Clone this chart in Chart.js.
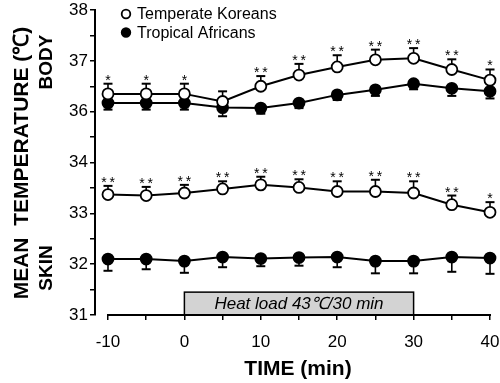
<!DOCTYPE html>
<html><head><meta charset="utf-8">
<script src="https://cdn.jsdelivr.net/npm/chart.js@4/dist/chart.umd.min.js"></script>
<style>html,body{margin:0;padding:0;background:#fff}#wrap{position:relative;width:500px;height:383px}</style>
</head><body><div id="wrap"><canvas id="c" width="500" height="383"></canvas></div>
<script>
// ---- data ----
const times = [-10, -5, 0, 5, 10, 15, 20, 25, 30, 35, 40];
const koreansBody     = [36.35, 36.35, 36.35, 36.20, 36.50, 36.72, 36.88, 37.02, 37.05, 36.83, 36.62];
const koreansBodyErr  = [0.20, 0.20, 0.20, 0.20, 0.20, 0.22, 0.23, 0.20, 0.20, 0.20, 0.21];
const africansBody    = [36.17, 36.17, 36.17, 36.08, 36.07, 36.17, 36.33, 36.43, 36.55, 36.46, 36.40];
const africansBodyErr = [0.13, 0.13, 0.13, 0.17, 0.11, 0.10, 0.10, 0.12, 0.11, 0.15, 0.14];
const koreansSkin     = [33.37, 33.35, 33.40, 33.48, 33.56, 33.51, 33.43, 33.43, 33.40, 33.17, 33.02];
const koreansSkinErr  = [0.17, 0.17, 0.16, 0.15, 0.16, 0.16, 0.20, 0.23, 0.23, 0.18, 0.20];
const africansSkin    = [32.10, 32.10, 32.06, 32.14, 32.11, 32.13, 32.14, 32.06, 32.06, 32.14, 32.12];
const africansSkinErr = [0.23, 0.20, 0.23, 0.20, 0.15, 0.16, 0.20, 0.24, 0.24, 0.29, 0.31];
const bodySig = ['*', '*', '*', '', '**', '**', '**', '**', '**', '**', '*'];
const skinSig = ['**', '**', '**', '**', '**', '**', '**', '**', '**', '**', '*'];
const groupLabels = ['Temperate Koreans', 'Tropical Africans'];
const yTickLabels = [31, 32, 33, 34, 36, 37, 38];   // axis is broken: 35 is skipped
const xTickLabels = [-10, 0, 10, 20, 30, 40];
const xMinorTicks = [-5, 5, 15, 25, 35];
const heatLoad = { start: 0, end: 30, top: 31.45, label: 'Heat load 43\u2103/30 min' };
const yTitle = 'MEAN  TEMPERATURE (\u2103)';
const xTitle = 'TIME (min)';
const sectionLabels = ['BODY', 'SKIN'];

// broken axis: values above the break are shifted down by one unit
const toAxis = v => v > 35 ? v - 1 : v;
const fromAxis = v => v >= 35 ? v + 1 : v;

const FONT = "'Liberation Sans', Arial, Helvetica, sans-serif";

function makeSet(label, vals, errs, dir, sig, fill) {
  return {
    label, err: errs, errDir: dir, sig,
    data: times.map((t, i) => ({ x: t, y: toAxis(vals[i]) })),
    borderColor: '#000', borderWidth: 2, tension: 0, clip: false,
    pointRadius: 5.5, pointBorderWidth: 1.8,
    pointBackgroundColor: fill, pointBorderColor: '#000', fill: false
  };
}

const datasets = [
  makeSet(groupLabels[0], koreansBody, koreansBodyErr, 1, bodySig, '#fff'),
  makeSet(groupLabels[1], africansBody, africansBodyErr, -1, null, '#000'),
  makeSet(groupLabels[0], koreansSkin, koreansSkinErr, 1, skinSig, '#fff'),
  makeSet(groupLabels[1], africansSkin, africansSkinErr, -1, null, '#000')
];

const decor = {
  id: 'decor',
  beforeDatasetsDraw(chart) {
    const { ctx, scales: { x, y } } = chart;
    ctx.save();
    // heat load box
    const x0 = x.getPixelForValue(heatLoad.start), x1 = x.getPixelForValue(heatLoad.end);
    const yb = y.getPixelForValue(31), yt = y.getPixelForValue(heatLoad.top);
    ctx.fillStyle = '#d3d3d3';
    ctx.fillRect(x0, yt, x1 - x0, yb - yt);
    ctx.strokeStyle = '#000'; ctx.lineWidth = 1.5;
    ctx.strokeRect(x0, yt, x1 - x0, yb - yt);
    ctx.fillStyle = '#000';
    ctx.font = 'italic 17px ' + FONT;
    ctx.textAlign = 'center'; ctx.textBaseline = 'middle';
    ctx.fillText(heatLoad.label, (x0 + x1) / 2, (yt + yb) / 2 + 1);
    // error bars
    chart.data.datasets.forEach(ds => {
      ds.data.forEach((p, i) => {
        const px = x.getPixelForValue(p.x);
        const py = y.getPixelForValue(p.y);
        const pe = y.getPixelForValue(p.y + ds.errDir * ds.err[i]);
        ctx.strokeStyle = '#000';
        ctx.lineWidth = 1.6;
        ctx.beginPath(); ctx.moveTo(px, py); ctx.lineTo(px, pe); ctx.stroke();
        ctx.lineWidth = 2;
        ctx.beginPath(); ctx.moveTo(px - 4.5, pe); ctx.lineTo(px + 4.5, pe); ctx.stroke();
        if (ds.sig && ds.sig[i]) {
          ctx.font = '14px ' + FONT;
          ctx.textAlign = 'center'; ctx.textBaseline = 'alphabetic';
          ctx.fillText(ds.sig[i].split('').join('\u2009'), px, pe + 1);
        }
      });
    });
    ctx.restore();
  },
  afterDraw(chart) {
    const { ctx, scales: { x, y }, chartArea } = chart;
    ctx.save();
    // x axis line (detached from y axis)
    ctx.strokeStyle = '#000'; ctx.lineWidth = 2;
    ctx.beginPath();
    ctx.moveTo(x.getPixelForValue(xTickLabels[0]) - 1, chartArea.bottom);
    ctx.lineTo(x.getPixelForValue(xTickLabels[xTickLabels.length - 1]) + 1, chartArea.bottom);
    ctx.stroke();
    // titles
    ctx.fillStyle = '#000';
    ctx.textAlign = 'center'; ctx.textBaseline = 'middle';
    ctx.font = 'bold 21px ' + FONT;
    ctx.fillText(xTitle, 298, 369);
    ctx.save();
    ctx.translate(22, 163); ctx.rotate(-Math.PI / 2);
    ctx.font = 'bold 21px ' + FONT;
    ctx.fillText(yTitle, 0, 0);
    ctx.restore();
    ctx.font = 'bold 19px ' + FONT;
    [[sectionLabels[0], 62], [sectionLabels[1], 268]].forEach(([t, cy]) => {
      ctx.save(); ctx.translate(47, cy); ctx.rotate(-Math.PI / 2);
      ctx.fillText(t, 0, 0); ctx.restore();
    });
    // legend
    ctx.font = '16px ' + FONT;
    ctx.textAlign = 'left';
    const fills = ['#fff', '#000'];
    groupLabels.forEach((lab, k) => {
      const ly = 14 + k * 18.5;
      ctx.beginPath(); ctx.arc(126, ly, 4.3, 0, Math.PI * 2);
      ctx.fillStyle = fills[k]; ctx.fill();
      ctx.lineWidth = 1.8; ctx.strokeStyle = '#000'; ctx.stroke();
      ctx.fillStyle = '#000';
      ctx.fillText(lab, 137, ly + 1);
    });
    ctx.restore();
  }
};

new Chart(document.getElementById('c'), {
  type: 'line',
  data: { datasets },
  plugins: [decor],
  options: {
    responsive: false, animation: false, devicePixelRatio: 1,
    layout: { padding: { top: 10, right: 10, left: 0, bottom: 0 } },
    plugins: { legend: { display: false }, tooltip: { enabled: false } },
    scales: {
      x: {
        type: 'linear', min: -11.7, max: 40,
        afterBuildTicks: s => { s.ticks = xTickLabels.concat(xMinorTicks).sort((a, b) => a - b).map(v => ({ value: v })); },
        afterFit: s => { s.height = 68; s.paddingRight = 0; s.paddingLeft = 0; },
        border: { display: false },
        grid: { drawOnChartArea: false, drawTicks: true, tickLength: 5, color: '#000', lineWidth: 1.5 },
        ticks: {
          color: '#000', font: { family: FONT, size: 17 }, padding: 12,
          maxRotation: 0, autoSkip: false,
          callback: v => xTickLabels.includes(v) ? String(v) : ''
        }
      },
      y: {
        type: 'linear', min: 31, max: 37,
        afterBuildTicks: s => { const t = []; for (let v = 31; v <= 37; v += 0.5) t.push({ value: v }); s.ticks = t; },
        afterFit: s => { s.width = 95; s.paddingTop = 0; s.paddingBottom = 0; },
        border: { display: true, color: '#000', width: 2 },
        grid: { drawOnChartArea: false, drawTicks: true, tickLength: 5, color: '#000', lineWidth: 1.5 },
        ticks: {
          color: '#000', font: { family: FONT, size: 17 }, padding: 2, autoSkip: false,
          callback: v => Number.isInteger(v) && yTickLabels.includes(fromAxis(v)) ? String(fromAxis(v)) : ''
        }
      }
    }
  }
});
</script></body></html>
